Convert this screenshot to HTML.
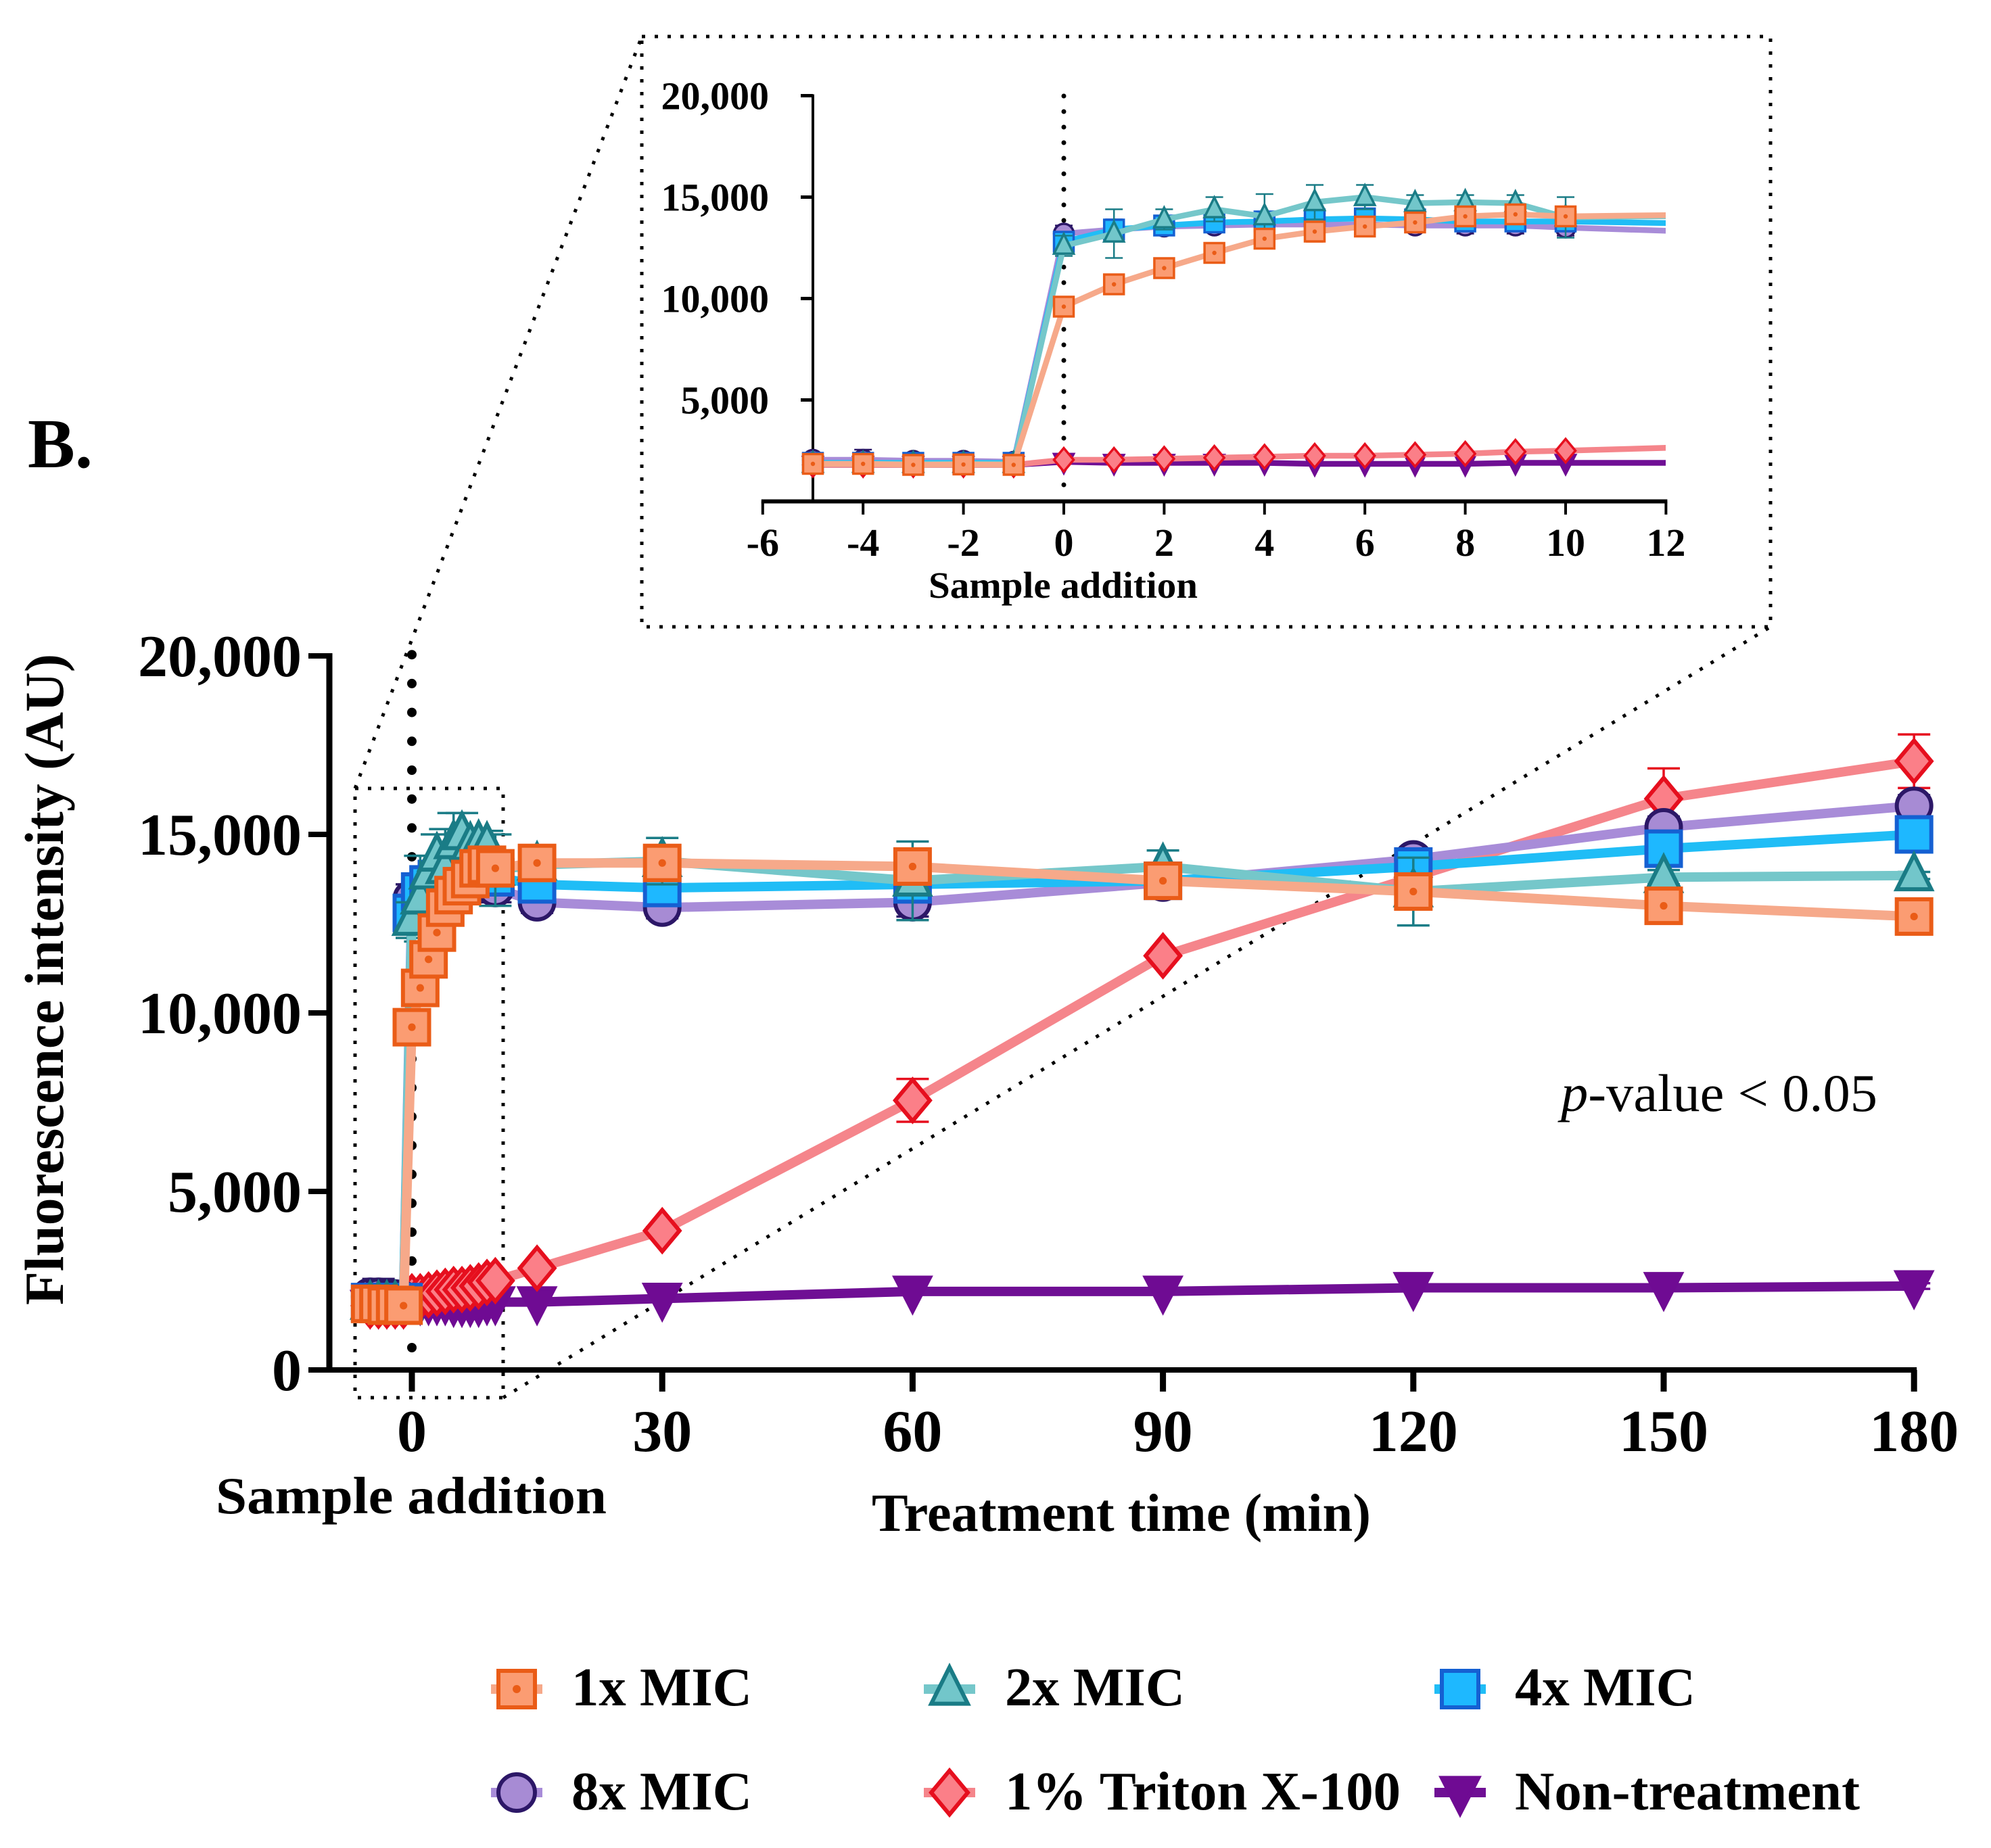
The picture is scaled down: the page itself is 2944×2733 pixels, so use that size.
<!DOCTYPE html>
<html lang="en">
<head>
<meta charset="utf-8">
<title>Fluorescence intensity over treatment time</title>
<style>
html,body{margin:0;padding:0;background:#fff;}
svg{display:block;}
text{font-family:"Liberation Serif",serif;fill:#000;}
.b{font-weight:bold;}
</style>
</head>
<body>
<svg id="chart" xmlns="http://www.w3.org/2000/svg" width="2944" height="2733" viewBox="0 0 2944 2733">
  <defs>
    <clipPath id="inset-clip"><rect x="1100" y="100" width="1363" height="640"/></clipPath>
  </defs>
  <rect x="0" y="0" width="2944" height="2733" fill="#fff"/>

  <text class="b" x="41" y="691" font-size="104" textLength="96" lengthAdjust="spacingAndGlyphs">B.</text>

  <g fill="none" stroke="#000" stroke-width="5" stroke-dasharray="5 14">
    <rect x="525" y="1166" width="219" height="901"/>
    <line x1="525" y1="1166" x2="949" y2="54"/>
    <line x1="744" y1="2067" x2="2618" y2="927"/>
    <rect x="949" y="54" width="1669" height="873"/>
  </g>

  <g id="main-axes"></g>
  <g id="inset-axes"></g>
  <g id="main-series"></g>
  <g id="inset-series" clip-path="url(#inset-clip)"></g>

  <text class="b" transform="translate(93 1930) rotate(-90)" x="0" y="0" font-size="82" textLength="963" lengthAdjust="spacingAndGlyphs">Fluorescence intensity (AU)</text>
  <text class="b" x="319" y="2238" font-size="77" textLength="578" lengthAdjust="spacingAndGlyphs">Sample addition</text>
  <text class="b" x="1289" y="2264" font-size="79" textLength="738" lengthAdjust="spacingAndGlyphs">Treatment time (min)</text>
  <text x="2308" y="1643" font-size="78" textLength="468" lengthAdjust="spacingAndGlyphs"><tspan font-style="italic">p</tspan>-value &lt; 0.05</text>
  <text class="b" x="1373" y="884" font-size="55" textLength="398" lengthAdjust="spacingAndGlyphs">Sample addition</text>

  <g id="legend"></g>
</svg>

<script>
const times = [-5,-4,-3,-2,-1,0,1,2,3,4,5,6,7,8,9,10,15,30,60,90,120,150,180];

const values1x = [1850,1850,1800,1820,1800,9600,10700,11500,12250,12950,13300,13550,13750,14050,14150,14050,14200,14200,14100,13700,13400,13000,12700];
const values2x = [1850,1850,1850,1850,1850,12600,13200,13900,14400,14050,14750,15000,14700,14750,14700,14000,14150,14250,13700,14100,13400,13800,13850];
const values4x = [1900,1900,1900,1900,1900,12800,13400,13600,13750,13800,13900,13950,13900,13800,13800,13800,13600,13500,13600,13700,14100,14600,15000];
const values8x = [2050,2050,2000,2000,1950,13200,13400,13550,13600,13650,13650,13650,13600,13600,13600,13500,13100,12950,13100,13650,14300,15200,15800];
const valuesTriton = [1800,1800,1800,1800,1800,2050,2050,2100,2150,2200,2250,2250,2300,2350,2450,2500,2850,3900,7550,11600,13800,16000,17050];
const valuesNone = [1800,1800,1800,1800,1800,1950,1900,1900,1900,1900,1850,1850,1850,1850,1900,1900,1900,2000,2200,2200,2300,2300,2350];

const errors1x = [150,150,100,120,100,200,200,250,300,300,500,300,200,200,200,300,200,200,300,300,300,200,500];
const errors2x = [100,100,100,100,100,500,1200,500,600,1100,850,600,400,350,400,1000,300,650,1100,450,950,200,100];
const errors4x = [100,100,100,100,100,300,400,300,300,250,250,250,200,200,200,200,200,200,200,200,300,300,200];
const errors8x = [300,500,250,250,250,400,500,400,300,300,300,300,300,400,400,400,300,300,400,300,300,300,300];
const errorsTriton = [100,100,100,100,100,100,100,100,100,100,100,100,100,100,100,100,100,100,600,100,300,850,750];
const errorsNone = [80,80,80,80,80,80,80,80,80,80,80,80,80,80,80,80,80,80,80,80,80,80,80];

const mainYTicks = [0,5000,10000,15000,20000];
const mainYLabels = ["0","5,000","10,000","15,000","20,000"];
const mainXTicks = [0,30,60,90,120,150,180];
const mainXLabels = ["0","30","60","90","120","150","180"];
const insetYTicks = [5000,10000,15000,20000];
const insetYLabels = ["5,000","10,000","15,000","20,000"];
const insetXTicks = [-6,-4,-2,0,2,4,6,8,10,12];
const insetXLabels = ["-6","-4","-2","0","2","4","6","8","10","12"];
const legendLabels = ["1x MIC","2x MIC","4x MIC","8x MIC","1% Triton X-100","Non-treatment"];

const NS = "http://www.w3.org/2000/svg";
function xMain(t){ return 609 + t * 12.34; }
function yMain(v){ return 2026 - v * 0.0528; }
function xInset(t){ return 1573 + t * 74.2; }
function yInset(v){ return 741.5 - v * 0.03; }

function make(parent, tag, attrs, txt){
  const el = document.createElementNS(NS, tag);
  for (const k in attrs) el.setAttribute(k, attrs[k]);
  if (txt !== undefined) el.textContent = txt;
  parent.appendChild(el);
  return el;
}

const styleOf = {
  none:   {line:"#6f0f94", fill:"#6f0b93", stroke:"#6f0b93", shape:"down"},
  triton: {line:"#f5858b", fill:"#fb7f88", stroke:"#e60f1e", shape:"diamond"},
  x8:     {line:"#a88cd8", fill:"#a78bd4", stroke:"#2c1767", shape:"circle"},
  x4:     {line:"#20bdf6", fill:"#1eb8ff", stroke:"#1560d2", shape:"square"},
  x2:     {line:"#75c7ca", fill:"#72c6ca", stroke:"#1a7c86", shape:"triangle"},
  x1:     {line:"#f6a98a", fill:"#fb9c72", stroke:"#ea5c17", shape:"dot"}
};

function drawMarker(g, kind, s, cx, cy, size, sw){
  const h = size / 2;
  const base = {fill:s.fill, stroke:s.stroke, "stroke-width":sw, "stroke-linejoin":"miter"};
  let el;
  if (kind === "square" || kind === "dot") {
    el = make(g, "rect", Object.assign({x:cx-h, y:cy-h, width:size, height:size}, base));
  } else if (kind === "circle") {
    el = make(g, "circle", Object.assign({cx:cx, cy:cy, r:h}, base));
  } else if (kind === "triangle") {
    el = make(g, "polygon", Object.assign({points:[cx,cy-h*1.2,cx+h,cy+h*0.8,cx-h,cy+h*0.8].join(" ")}, base));
  } else if (kind === "diamond") {
    el = make(g, "polygon", Object.assign({points:[cx,cy-h*1.2,cx+h,cy,cx,cy+h*1.2,cx-h,cy].join(" ")}, base));
  } else {
    el = make(g, "polygon", Object.assign({points:[cx-h,cy-h*0.8,cx+h,cy-h*0.8,cx,cy+h*1.15].join(" ")}, base));
  }
  
  
  if (kind === "dot") {
    const d = make(g, "circle", {cx:cx, cy:cy, r:size*0.11, fill:s.stroke});
    
    
  }
}

function drawSeries(root, name, vals, errs, s, fx, fy, o){
  const g = make(root, "g", {});
  
  
  times.forEach(function(t, i){
    const x = fx(t);
    const bar = make(g, "path", {
      d:"M"+x+" "+fy(vals[i]-errs[i])+"V"+fy(vals[i]+errs[i])+
        "M"+(x-o.cap)+" "+fy(vals[i]+errs[i])+"H"+(x+o.cap)+
        "M"+(x-o.cap)+" "+fy(vals[i]-errs[i])+"H"+(x+o.cap),
      fill:"none", stroke:s.stroke, "stroke-width":o.err});
    
    
  });
  const pts = times.map(function(t, i){ return fx(t)+","+fy(vals[i]); }).join(" ");
  const line = make(g, "polyline", {points:pts, fill:"none", stroke:s.line, "stroke-width":o.line, "stroke-linejoin":"round"});
  
  
  times.forEach(function(t, i){
    drawMarker(g, s.shape, s, fx(t), fy(vals[i]), o.size, o.sw);
  });
}

const seriesList = [
  ["non-treatment-series", valuesNone, errorsNone, styleOf.none],
  ["triton-series", valuesTriton, errorsTriton, styleOf.triton],
  ["mic-8x-series", values8x, errors8x, styleOf.x8],
  ["mic-4x-series", values4x, errors4x, styleOf.x4],
  ["mic-2x-series", values2x, errors2x, styleOf.x2],
  ["mic-1x-series", values1x, errors1x, styleOf.x1]
];

/* main axes */
const mainAxes = document.getElementById("main-axes");
const vDots = make(mainAxes, "line", {x1:xMain(0), y1:1993, x2:xMain(0), y2:967, stroke:"#000", "stroke-width":14, "stroke-linecap":"round", "stroke-dasharray":"0 42.7"});


const mainYAxis = make(mainAxes, "line", {x1:487, y1:yMain(20000)-4, x2:487, y2:yMain(0)+4, stroke:"#000", "stroke-width":9});


const mainXAxis = make(mainAxes, "line", {x1:456, y1:yMain(0), x2:xMain(180)+4, y2:yMain(0), stroke:"#000", "stroke-width":8});


mainYTicks.forEach(function(v, i){
  const tick = make(mainAxes, "line", {x1:456, y1:yMain(v), x2:487, y2:yMain(v), stroke:"#000", "stroke-width":8});
  
  
  const lab = make(mainAxes, "text", {x:446, y:yMain(v)+30, "text-anchor":"end", "font-size":88, "font-weight":"bold"}, mainYLabels[i]);
  
  
});
mainXTicks.forEach(function(t, i){
  const tick = make(mainAxes, "line", {x1:xMain(t), y1:yMain(0), x2:xMain(t), y2:2058, stroke:"#000", "stroke-width":9});
  
  
  const lab = make(mainAxes, "text", {x:xMain(t), y:2146, "text-anchor":"middle", "font-size":88, "font-weight":"bold"}, mainXLabels[i]);
  
  
});

/* inset axes */
const insetAxes = document.getElementById("inset-axes");
const iDots = make(insetAxes, "line", {x1:xInset(0), y1:142, x2:xInset(0), y2:730, stroke:"#000", "stroke-width":7, "stroke-linecap":"round", "stroke-dasharray":"0 23"});


const insetYAxis = make(insetAxes, "line", {x1:xInset(-5), y1:yInset(20000)-2, x2:xInset(-5), y2:yInset(0), stroke:"#000", "stroke-width":4});


const insetXAxis = make(insetAxes, "line", {x1:xInset(-6)-2, y1:yInset(0), x2:xInset(12)+2, y2:yInset(0), stroke:"#000", "stroke-width":6});


insetYTicks.forEach(function(v, i){
  const tick = make(insetAxes, "line", {x1:1184, y1:yInset(v), x2:xInset(-5), y2:yInset(v), stroke:"#000", "stroke-width":5});
  
  
  const lab = make(insetAxes, "text", {x:1137, y:yInset(v)+20, "text-anchor":"end", "font-size":58, "font-weight":"bold"}, insetYLabels[i]);
  
  
});
insetXTicks.forEach(function(t, i){
  const tick = make(insetAxes, "line", {x1:xInset(t), y1:yInset(0), x2:xInset(t), y2:761, stroke:"#000", "stroke-width":4});
  
  
  const lab = make(insetAxes, "text", {x:xInset(t), y:822, "text-anchor":"middle", "font-size":58, "font-weight":"bold"}, insetXLabels[i]);
  
  
});

/* series */
const mainRoot = document.getElementById("main-series");
const insetRoot = document.getElementById("inset-series");
seriesList.forEach(function(d){
  drawSeries(mainRoot, d[0], d[1], d[2], d[3], xMain, yMain, {cap:24, err:3.5, line:14, size:51, sw:6});
  drawSeries(insetRoot, "inset-"+d[0], d[1], d[2], d[3], xInset, yInset, {cap:13, err:2.5, line:8.5, size:29, sw:3.5});
});

/* legend */
const legend = document.getElementById("legend");
const legendRows = [
  [styleOf.x1, 764, 2498, 845, 2522, 267],
  [styleOf.x2, 1404, 2498, 1486, 2522, 266],
  [styleOf.x4, 2159, 2498, 2240, 2522, 267],
  [styleOf.x8, 764, 2651, 845, 2676, 267],
  [styleOf.triton, 1404, 2651, 1486, 2676, 585],
  [styleOf.none, 2159, 2651, 2240, 2676, 510]
];
legendRows.forEach(function(r, i){
  const g = make(legend, "g", {});
  
  
  const ln = make(g, "line", {x1:r[1]-38, y1:r[2], x2:r[1]+38, y2:r[2], stroke:r[0].line, "stroke-width":14});
  
  
  drawMarker(g, r[0].shape, r[0], r[1], r[2], 54, 6);
  const t = make(g, "text", {x:r[3], y:r[4], "font-size":80, "font-weight":"bold", textLength:r[5], lengthAdjust:"spacingAndGlyphs"}, legendLabels[i]);
  
  
});
</script>
</body>
</html>
